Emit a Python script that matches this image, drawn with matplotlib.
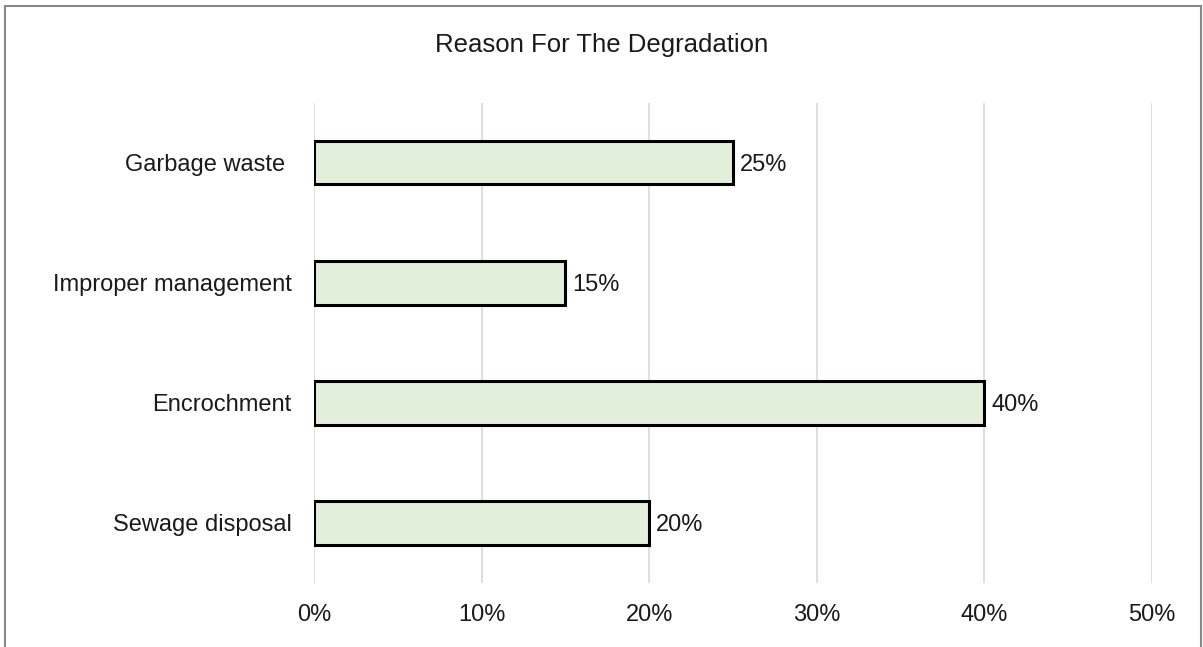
import matplotlib.pyplot as plt
from matplotlib.patches import Rectangle

plt.rcParams['font.family'] = ['Liberation Sans', 'DejaVu Sans']

categories = ["Sewage disposal", "Encrochment", "Improper management", "Garbage waste "]
values = [20, 40, 15, 25]
xticks = [0, 10, 20, 30, 40, 50]

fig = plt.figure(figsize=(12.03, 6.47), dpi=100)
ax = fig.add_axes([0.261, 0.099, 0.6966, 0.742])

y = range(len(categories))
bars = ax.barh(y, values, height=0.36, color="#E2EFDA", edgecolor="black", linewidth=2.2, zorder=3)
for b, v in zip(bars, values):
    ax.text(b.get_width() + 0.4, b.get_y() + b.get_height() / 2, f"{v}%",
            va="center_baseline", ha="left", fontsize=17, color="#1a1a1a")

ax.set_xlim(0, 50)
ax.set_ylim(-0.5, len(categories) - 0.5)
ax.set_xticks(xticks)
ax.set_xticklabels([f"{t}%" for t in xticks], fontsize=17, color="#1a1a1a")
ax.set_yticks(list(y))
ax.set_yticklabels(categories, fontsize=17, color="#1a1a1a")
ax.tick_params(axis='y', length=0, pad=16)
ax.tick_params(axis='x', length=0, pad=15)
ax.grid(axis='x', color="#D9D9D9", linewidth=1.2, zorder=0)
for s in ax.spines.values():
    s.set_visible(False)

fig.text(0.5, 1 - 45 / 647, "Reason For The Degradation", ha="center", va="center",
         fontsize=18.5, color="#1a1a1a")

fig.patches.append(Rectangle((5 / 1203, -0.05), 1196 / 1203, 1.05 - 5.5 / 647,
                             transform=fig.transFigure, fill=False,
                             edgecolor="#888888", linewidth=1.5))

fig.savefig("out.png", dpi=100)
